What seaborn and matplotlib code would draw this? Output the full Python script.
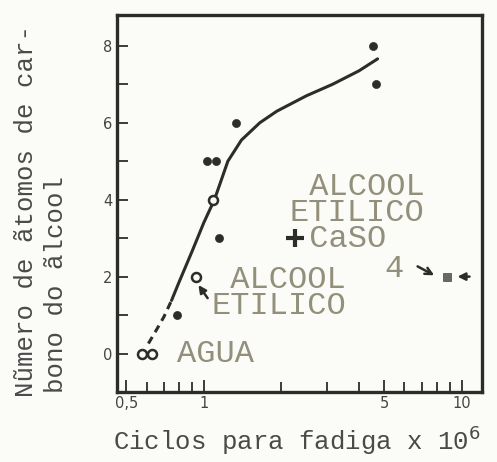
import seaborn as sns
import numpy as np
import pandas as pd
import matplotlib.pyplot as plt

sns.set_style("ticks")
plt.rcParams["font.family"] = ["DejaVu Sans"]

# measured points (cycles x 10^6, carbon atoms)
filled_x = [4.52, 4.65, 1.33, 1.03, 1.12, 1.15, 0.79]
filled_y = [8, 7, 6, 5, 5, 3, 1]
open_x = [0.575, 0.63, 1.09, 0.93]
open_y = [0, 0, 4, 2]
caso4_x = [2.25]
caso4_y = [3]
square_x = [8.8]
square_y = [2]

# hand-drawn trend curve
dash_x = [0.61, 0.66, 0.70, 0.75]
dash_y = [0.26, 0.65, 0.95, 1.38]
curve_x = [0.75, 0.80, 0.90, 1.0, 1.1, 1.24, 1.4, 1.65, 1.92, 2.5, 3.16, 4.0, 4.72]
curve_y = [1.38, 1.84, 2.65, 3.4, 4.0, 5.0, 5.55, 6.0, 6.3, 6.7, 7.0, 7.35, 7.66]

ink = "#2e2c2a"
faded = "#928f7a"
mono = "Liberation Mono"

fig = plt.figure(figsize=(4.97, 4.62), dpi=100, facecolor="#fbfbf8")
ax = fig.add_axes([0.235, 0.1515, 0.735, 0.816])
ax.set_facecolor("#fbfbf8")

sns.lineplot(x=dash_x, y=dash_y, ax=ax, color=ink, lw=2.2, sort=False,
             estimator=None, linestyle=(0, (2.5, 1.8)))
sns.lineplot(x=curve_x, y=curve_y, ax=ax, color=ink, lw=2.2, sort=False,
             estimator=None)
sns.scatterplot(x=filled_x, y=filled_y, ax=ax, color=ink, s=34,
                edgecolor=ink, zorder=5)
sns.scatterplot(x=open_x, y=open_y, ax=ax, facecolor="#fbfbf8", s=42,
                edgecolor=ink, linewidth=1.8, zorder=5)
sns.scatterplot(x=caso4_x, y=caso4_y, ax=ax, marker="+", color=ink, s=150,
                linewidth=3, zorder=5)
sns.scatterplot(x=square_x, y=square_y, ax=ax, marker="s", color="#6a6864",
                s=26, edgecolor=ink, zorder=5)

# arrows
arr = dict(arrowstyle="-|>", color=ink, lw=1.8, mutation_scale=11)
ax.annotate("", xy=(0.94, 1.84), xytext=(1.05, 1.38), arrowprops=arr)
ax.annotate("", xy=(8.0, 2.0), xytext=(6.6, 2.3),
            arrowprops=dict(arrowstyle="->", color=ink, lw=1.8, mutation_scale=12))
ax.annotate("", xy=(9.4, 2.0), xytext=(11.0, 2.0), arrowprops=arr)

lab = dict(family=mono, color=faded, fontsize=23, ha="left", va="center",
           linespacing=0.82)
ax.text(0.79, 0.0, "AGUA", **lab)
ax.text(1.07, 1.58, " ALCOOL\nETILICO", **lab)
ax.text(2.15, 3.66, " ALCOOL\nETILICO\n CaSO", **lab)
ax.text(5.45, 2.6, "4", family=mono, color=faded, fontsize=23,
        ha="center", va="top")

ax.set_xscale("log")
ax.set_xlim(0.46, 12)
ax.set_ylim(-1, 8.8)
ax.set_xticks([0.5, 1, 5, 10])
ax.set_xticklabels(["0,5", "1", "5", "10"])
ax.set_xticks([0.6, 0.7, 0.8, 0.9, 2, 3, 4, 6, 7, 8, 9], minor=True)
ax.set_yticks([0, 2, 4, 6, 8])
ax.set_yticks([1, 3, 5, 7], minor=True)
ax.tick_params(which="both", direction="in", color=ink, width=1.3,
               labelsize=10.5, labelcolor="#444444", pad=3)
ax.tick_params(which="major", length=9)
ax.tick_params(which="minor", length=7, labelbottom=False)
ax.tick_params(axis="y", which="both", length=8)
for s in ax.spines.values():
    s.set_color(ink)
    s.set_linewidth(2.4)

txt = dict(family=mono, fontsize=18.5, color="#4a4a4a")
fig.text(0.597, 0.046, "Ciclos para fadiga x 10$^6$", ha="center",
         va="center", **txt)
fig.text(0.052, 0.141, "Nũmero de ãtomos de car-", rotation=90,
         ha="center", va="bottom", **txt)
fig.text(0.112, 0.149, "bono do ãlcool", rotation=90,
         ha="center", va="bottom", **txt)

fig.savefig("out.png", dpi=100, facecolor=fig.get_facecolor())
